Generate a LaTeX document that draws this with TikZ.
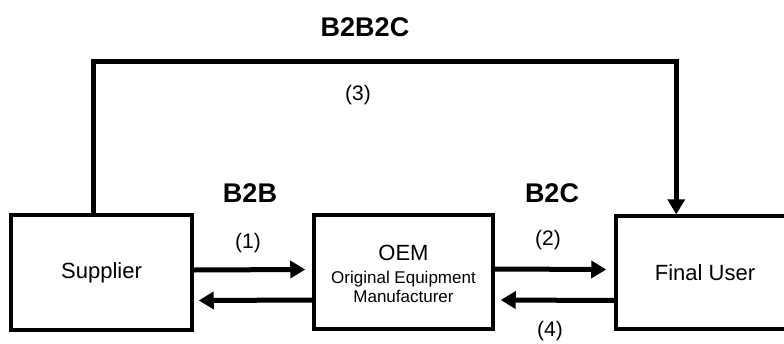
\documentclass[tikz,border=0pt]{standalone}
\usepackage{fontspec}
\setmainfont{Liberation Sans}
\usetikzlibrary{arrows.meta}
\tikzset{
  box/.style={draw, line width=3.5pt, fill=white, inner sep=0pt, align=center, font=\fontsize{22}{26}\selectfont},
  conn/.style={line width=5pt, -{Triangle[length=15pt,width=17pt]}},
  route/.style={line width=5pt, line join=miter, -{Triangle[length=15pt,width=17pt]}},
  biglabel/.style={font=\bfseries\fontsize{27}{30}\selectfont},
  numlabel/.style={font=\fontsize{21}{24}\selectfont}
}
\begin{document}
\begin{tikzpicture}[x=1pt,y=-1pt]
\useasboundingbox (0,0) rectangle (784,343);
\clip (0,0) rectangle (784,343);
\fill[white] (0,0) rectangle (784,343);
\node[box, minimum width=181pt, minimum height=115pt] (sup) at (101.5,272.5) {Supplier};
\node[box, minimum width=179pt, minimum height=114pt] (oem) at (403.5,272) {};
\node[box, minimum width=178pt, minimum height=113pt] (fin) at (705,272.5) {Final User};
\node[font=\fontsize{22}{24}\selectfont] (oemt) at (403.5,253) {OEM};
\node[font=\fontsize{17}{20}\selectfont, align=center] (oems) at (403.5,287) {Original Equipment\\[-1pt]Manufacturer};
\node[biglabel] (b2b2c) at (365,27) {B2B2C};
\node[biglabel] (b2b) at (250,193) {B2B};
\node[biglabel] (b2c) at (552,193) {B2C};
\node[numlabel] (n1) at (248,243) {(1)};
\node[numlabel] (n2) at (548,240) {(2)};
\node[numlabel] (n3) at (358,95) {(3)};
\node[numlabel] (n4) at (550,331) {(4)};
\draw[conn] ([yshift=2.5pt]sup.east) -- ([xshift=-7pt,yshift=2.5pt]oem.west);
\draw[conn] ([yshift=-28pt]oem.west) -- ([xshift=5pt,yshift=-28pt]sup.east);
\draw[conn] ([yshift=3pt]oem.east) -- ([xshift=-8pt,yshift=3pt]fin.west);
\draw[conn] ([yshift=-28pt]fin.west) -- ([xshift=6pt,yshift=-28pt]oem.east);
\draw[route] ([xshift=84pt]sup.north west) -- ++(0,-152) -| ([xshift=62pt]fin.north west);
\end{tikzpicture}
\end{document}
